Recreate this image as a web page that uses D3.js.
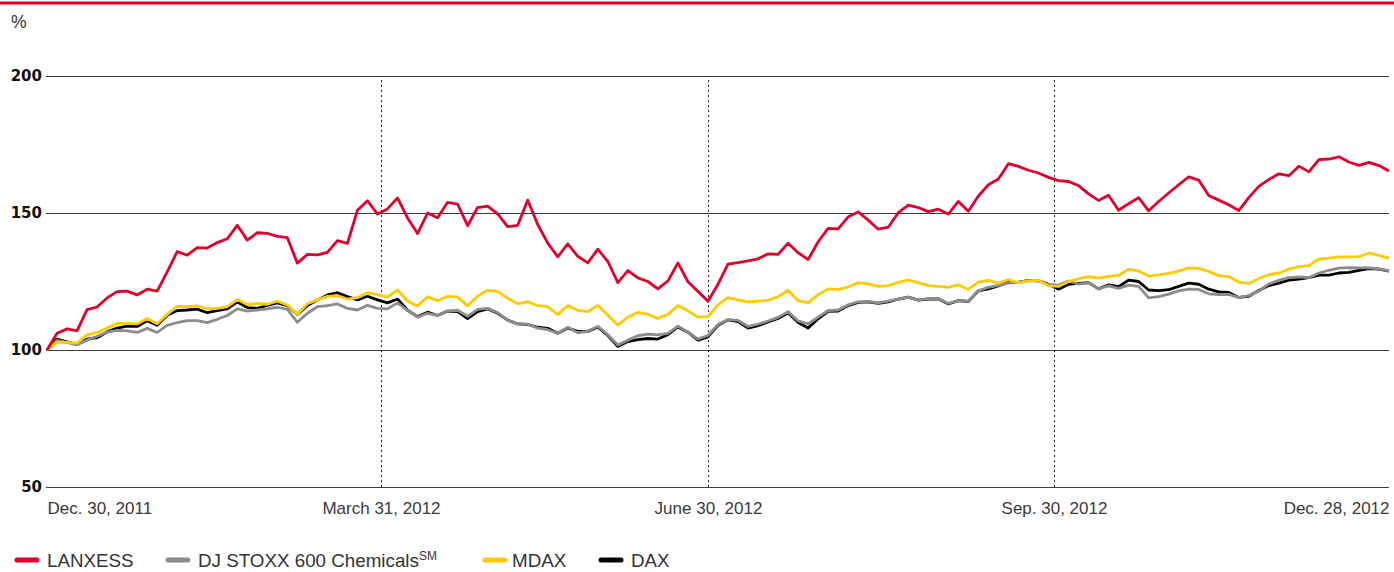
<!DOCTYPE html>
<html>
<head>
<meta charset="utf-8">
<script src="https://cdn.jsdelivr.net/npm/d3@7"></script>
<style>
  body { margin: 0; background: #fff; }
  svg { display: block; }
  .axis text { font-family: "Liberation Sans", Arial, sans-serif; }
  .axis--y text { font-family: "DejaVu Sans", sans-serif; font-weight: bold; font-size: 15px; fill: #111; }
  .axis--x text { font-size: 17px; fill: #3a3a3a; }
  .legend text { font-family: "Liberation Sans", Arial, sans-serif; font-size: 18.8px; fill: #333; }
</style>
</head>
<body>
<svg width="1394" height="572"></svg>
<script>
// Data, sampled every ~10px along the chart (index 0 = Dec. 30, 2011, last = Dec. 28, 2012)
var lanxess = [100,106.1,107.7,107,114.7,115.7,119,121.3,121.5,120.1,
  122.2,121.5,128.5,135.9,134.6,137.4,137.2,139.2,140.6,145.5,
  140.1,142.8,142.6,141.5,141,131.7,134.9,134.7,135.6,139.9,
  138.9,151,154.5,149.6,151.5,155.5,148.2,142.5,150,148.3,
  153.9,153.2,145.4,152,152.5,149.7,145,145.5,154.7,145.8,
  139,134,138.7,134.2,131.8,136.8,132.3,124.6,129,126.3,
  125,122.3,125.2,131.8,124.9,121.4,117.8,124,131.3,131.9,
  132.5,133.3,135.1,134.9,139,135.5,133,139.5,144.4,144.2,
  148.6,150.4,147.4,144.1,144.8,150.1,152.9,152,150.5,151.4,
  149.6,154.2,150.6,156.2,160.3,162.4,168,167,165.6,164.6,
  163,161.8,161.5,160,157,154.6,156.5,151,153.4,155.6,
  150.8,154.2,157.3,160.3,163.2,162,156.4,154.7,153,150.9,
  155.6,159.7,162.2,164.3,163.6,167.1,165,169.5,169.7,170.5,
  168.6,167.4,168.5,167.3,165.3];

var stoxxChem = [100,103.5,102.8,101.9,103.6,105,106.5,107.2,107,106.4,
  107.9,106.4,109,110,110.7,110.7,110,111.2,112.6,115,
  114.2,114.6,115,115.6,114.8,110.1,113.4,115.8,116.2,116.8,
  115.2,114.6,116.3,115.2,115,117.2,114.5,112,113.4,112.6,
  114.2,114.5,112.3,114.8,115.2,113.6,110.9,109.5,109.4,108,
  107.4,106.1,108.3,106.3,106.8,108.6,105.6,101.8,103.6,105.2,
  105.8,105.5,106.1,108.7,106.5,104,105.3,109.3,111.1,110.8,
  108.6,109.4,110.6,111.9,114,110.6,109.5,112,114.4,114.6,
  116.5,117.6,117.7,117.2,117.8,118.6,119.3,118.2,118.8,118.7,
  117,118,117.8,121.6,122.9,123.6,124.4,124.8,125.3,125.1,
  123.9,123.7,125.2,124,124.6,122.3,123.4,122.5,123.7,123.2,
  119,119.5,120.4,121.6,122.2,122.1,120.5,120.2,120.3,119.1,
  119.8,121.5,124.1,125.4,126.4,126.7,126.4,128.1,129.1,129.9,
  130.1,130,130,129.6,128.9];

var mdax = [100,102.8,102.8,102.5,105.6,106.3,108,109.7,109.7,109.5,
  111.5,109.6,113,115.9,115.8,116.1,115,115.2,115.8,118.4,
  116.6,117,116.7,117.8,116.4,113,116.9,118.3,119.6,119.8,
  118.6,119.1,120.9,120.2,119.3,121.9,117.8,116.1,119.4,118,
  119.6,119.4,116.1,119.6,121.8,121.4,118.9,116.9,117.6,116.2,
  115.8,112.9,116.2,114.5,114,116.3,112.7,109.1,112,113.7,
  113,111.5,113,116.2,114.3,112,112.2,116.5,119.1,118.3,
  117.6,117.8,118.2,119.4,121.8,118,117.2,120.2,122.3,122,
  123,124.6,124.1,123.2,123.5,124.7,125.5,124.6,123.5,123.2,
  122.9,123.8,122.1,124.8,125.4,124.4,125.7,124.5,125.2,125.5,
  123.4,123.2,125,126,126.8,126.2,126.9,127.2,129.5,128.8,
  127,127.4,128,128.8,130,129.8,128.7,127.1,126.8,124.8,
  124.3,126.1,127.5,128.1,129.5,130.4,130.8,133.2,133.5,134,
  134,134.1,135.4,134.5,133.5];

var dax = [100,104,103,102,104,104.5,106.6,108,108.7,108.6,
  110.7,109,112.7,114.4,114.6,114.9,113.6,114.4,115,117.5,
  115.5,115.2,116.3,117.2,116.2,113,116.2,118.2,120.1,120.9,
  119.5,118.3,119.6,118.3,117.2,118.6,114.5,112.2,113.8,112.6,
  114.2,114,111.5,114,115,113.4,110.9,109.5,109.3,108.3,
  107.9,106.1,108,106.8,106.8,108.3,105.3,101.3,103.1,103.8,
  104.2,104,105.6,108.4,106.5,103.6,104.8,109,111,110.4,
  108,108.9,110.2,111.5,113.6,110,108,111.4,114.1,114.2,
  116.2,117.4,117.6,117,117.6,118.6,119.3,118.2,118.6,118.7,
  116.8,118,117.7,121.6,122.3,123.4,124.8,124.7,125.4,125.3,
  124,122.2,124,124.3,124.6,122.3,123.8,123.1,125.5,125,
  121.9,121.7,122,123.2,124.4,124,122.2,121.2,121,119.2,
  119.6,121.7,123.5,124.4,125.5,125.9,126.4,127.3,127.3,128.1,
  128.3,129.1,129.7,129.5,128.8];

// x tick labels and where they sit on the sample index
var xTickLabels = ["Dec. 30, 2011", "March 31, 2012", "June 30, 2012", "Sep. 30, 2012", "Dec. 28, 2012"];
var xTickIdx = [0, 33.35, 66, 100.55, 134];
var yTicks = [50, 100, 150, 200];

var seriesNames = ["LANXESS", "DJ STOXX 600 Chemicals", "MDAX", "DAX"];
var seriesColors = ["#e2002a", "#8c8c8c", "#fccc00", "#000000"];

// Setup
var svg = d3.select("svg"),
    margin = {top: 76, right: 5, bottom: 85, left: 46},
    width = +svg.attr("width") - margin.left - margin.right,
    height = +svg.attr("height") - margin.top - margin.bottom;

var x = d3.scaleLinear().domain([0, lanxess.length - 1]).range([1, width]),
    y = d3.scaleLinear().domain([50, 200]).range([height, 0]);

// red rule at the very top
svg.append("line")
    .attr("x1", 0).attr("x2", 1394)
    .attr("y1", 3).attr("y2", 3)
    .attr("stroke", "#e2002a")
    .attr("stroke-width", 3);

svg.append("text")
    .attr("x", 11).attr("y", 28)
    .style("font-family", "Liberation Sans, Arial, sans-serif")
    .style("font-size", "17.5px")
    .style("fill", "#333")
    .text("%");

var g = svg.append("g")
    .attr("transform", "translate(" + margin.left + "," + margin.top + ")");

// horizontal grid + bold y labels
var yAxis = g.append("g")
    .attr("class", "axis axis--y")
    .call(d3.axisLeft(y).tickValues(yTicks).tickSize(-width).tickPadding(4));
yAxis.select(".domain").remove();
yAxis.selectAll(".tick line").attr("stroke", "#3c3c3c").attr("stroke-width", 1.2);

// x labels with dotted quarter lines
var xAxis = g.append("g")
    .attr("class", "axis axis--x")
    .attr("transform", "translate(0," + height + ")")
    .call(d3.axisBottom(x)
        .tickValues(xTickIdx)
        .tickSize(-height)
        .tickPadding(15)
        .tickFormat(function(d, i) { return xTickLabels[i]; }));
xAxis.select(".domain").remove();
xAxis.selectAll(".tick line")
    .attr("stroke", "#222")
    .attr("stroke-width", 1)
    .attr("stroke-dasharray", "2,3")
    .style("display", function(d, i) { return (i == 0 || i == xTickIdx.length - 1) ? "none" : null; });
xAxis.selectAll(".tick text")
    .attr("text-anchor", function(d, i) {
        if (i == 0) return "start";
        if (i == xTickIdx.length - 1) return "end";
        return "middle";
    });

// lines
var line = d3.line()
    .x(function(d, i) { return x(i); })
    .y(function(d) { return y(d); });

var drawOrder = [
    {data: dax, color: seriesColors[3]},
    {data: stoxxChem, color: seriesColors[1]},
    {data: mdax, color: seriesColors[2]},
    {data: lanxess, color: seriesColors[0]}
];

g.selectAll(".series")
    .data(drawOrder)
    .enter().append("path")
    .attr("class", "series")
    .attr("fill", "none")
    .attr("stroke", function(d) { return d.color; })
    .attr("stroke-width", 2.8)
    .attr("stroke-linejoin", "round")
    .attr("d", function(d) { return line(d.data); });

// legend
var legendX = [14, 165, 482, 598];
var legend = svg.append("g").attr("class", "legend");
var items = legend.selectAll(".item")
    .data(seriesNames)
    .enter().append("g")
    .attr("class", "item")
    .attr("transform", function(d, i) { return "translate(" + legendX[i] + ",560)"; });

items.append("line")
    .attr("x1", 3).attr("x2", 23)
    .attr("stroke", function(d, i) { return seriesColors[i]; })
    .attr("stroke-width", 5)
    .attr("stroke-linecap", "round");

var labels = items.append("text")
    .attr("x", function(d, i) { return i == 2 ? 30 : 33; })
    .attr("y", 7)
    .text(function(d) { return d; });

labels.filter(function(d, i) { return i == 1; })
    .append("tspan")
    .attr("dy", -7)
    .style("font-size", "12px")
    .text("SM");
</script>
</body>
</html>
